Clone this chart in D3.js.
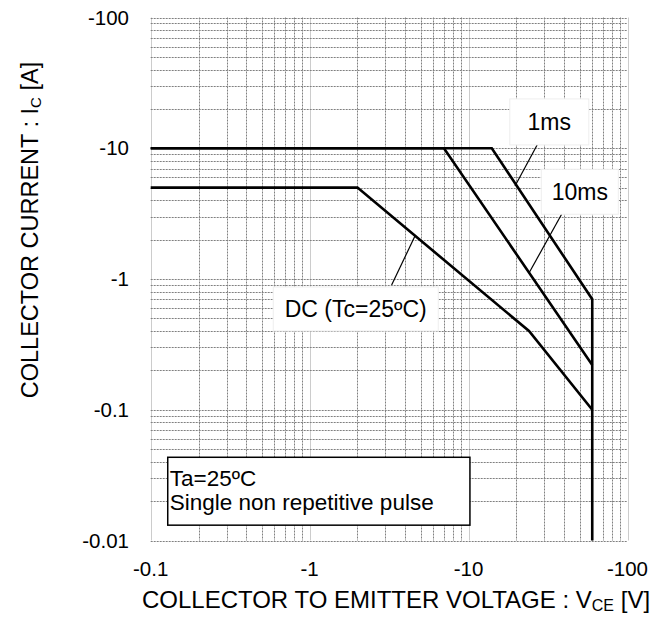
<!DOCTYPE html>
<html lang="en">
<head>
<meta charset="UTF-8">
<title>Safe Operating Area</title>
<script src="https://d3js.org/d3.v7.min.js"></script>
<style>
  body { margin: 0; background: #fff; }
  text { font-family: "Liberation Sans", Arial, sans-serif; fill: #000; }
</style>
</head>
<body>
<div id="chart"></div>
<script>
// tick values (magnitudes) and their labels
const xTicks = [0.1, 1, 10, 100];
const xTickLabels = ["-0.1", "-1", "-10", "-100"];
const yTicks = [0.01, 0.1, 1, 10, 100];
const yTickLabels = ["-0.01", "-0.1", "-1", "-10", "-100"];

// curves, |VCE| in V and |IC| in A
const ms1V = [0.1, 14, 60, 60];
const ms1I = [10, 10, 0.7, 0.01];
const ms10V = [0.1, 7, 60];
const ms10I = [10, 10, 0.22];
const dcV = [0.1, 2, 24, 60];
const dcI = [5, 5, 0.4, 0.1];

const width = 669, height = 618;
const margin = {left: 150.7, right: 41.5, top: 17.5, bottom: 77.5};

const svg = d3.select("#chart").append("svg")
    .attr("width", width).attr("height", height);

const x = d3.scaleLog().domain([0.1, 100]).range([margin.left, width - margin.right]);
const y = d3.scaleLog().domain([0.01, 100]).range([height - margin.bottom, margin.top]);

// grid
const minors = [];
for (let d = 0.1; d < 100; d *= 10) for (let k = 2; k <= 9; k++) minors.push(+(d * k).toPrecision(3));
const yMinors = [];
for (let d = 0.01; d < 100; d *= 10) for (let k = 2; k <= 9; k++) yMinors.push(+(d * k).toPrecision(3));

const grid = svg.append("g");
grid.selectAll(".vx").data(minors).join("line")
    .attr("x1", d => Math.round(x(d)) + 0.5).attr("x2", d => Math.round(x(d)) + 0.5)
    .attr("y1", y(100)).attr("y2", y(0.01))
    .attr("stroke", "#808080").attr("stroke-dasharray", "2,1");
grid.selectAll(".vd").data(xTicks).join("line")
    .attr("x1", d => Math.round(x(d)) + 0.5).attr("x2", d => Math.round(x(d)) + 0.5)
    .attr("y1", y(100)).attr("y2", y(0.01))
    .attr("stroke", "#ccc");
grid.selectAll(".hy").data(yMinors.concat(yTicks)).join("line")
    .attr("x1", x(0.1)).attr("x2", x(100))
    .attr("y1", d => Math.round(y(d)) + 0.5).attr("y2", d => Math.round(y(d)) + 0.5)
    .attr("stroke", "#808080").attr("stroke-dasharray", "2,1");

// tick labels
svg.selectAll(".xl").data(xTicks).join("text")
    .attr("x", d => x(d)).attr("y", 576)
    .attr("text-anchor", "middle").attr("font-size", 20.5)
    .text((d, i) => xTickLabels[i]);
svg.selectAll(".yl").data(yTicks).join("text")
    .attr("x", 129).attr("y", d => y(d) + 7)
    .attr("text-anchor", "end").attr("font-size", 20.5)
    .text((d, i) => yTickLabels[i]);

// curves
const line = d3.line().x(d => x(d[0])).y(d => y(d[1]));
[[ms1V, ms1I], [ms10V, ms10I], [dcV, dcI]].forEach(([vs, is]) => {
  svg.append("path")
      .attr("d", line(vs.map((v, i) => [v, is[i]])))
      .attr("fill", "none").attr("stroke", "#000")
      .attr("stroke-width", 2.6).attr("stroke-linejoin", "miter");
});

// annotations: label centre, leader start and end (in data units)
const notes = [
  {text: "1ms", c: [32.2, 15.9], w: 79, h: 46, from: [27.0, 10.6], to: [19.6, 5.14]},
  {text: "10ms", c: [50.1, 4.65], w: 77, h: 45, from: [38.5, 3.13], to: [24.0, 1.11]},
  {text: "DC (Tc=25ºC)", c: [1.95, 0.59], w: 165, h: 44, from: [3.28, 0.90], to: [4.6, 2.13]}
];
notes.forEach(n => {
  svg.append("line")
      .attr("x1", x(n.from[0])).attr("y1", y(n.from[1]))
      .attr("x2", x(n.to[0])).attr("y2", y(n.to[1]))
      .attr("stroke", "#000").attr("stroke-width", 1.2);
  svg.append("rect")
      .attr("x", x(n.c[0]) - n.w / 2).attr("y", y(n.c[1]) - n.h / 2)
      .attr("width", n.w).attr("height", n.h)
      .attr("fill", "#fff").attr("stroke", "#eee");
  svg.append("text")
      .attr("x", x(n.c[0])).attr("y", y(n.c[1]) + 8)
      .attr("text-anchor", "middle").attr("font-size", 23)
      .text(n.text);
});

// condition box
const boxV = [0.128, 10.2], boxI = [0.0433, 0.0131];
svg.append("rect")
    .attr("x", x(boxV[0])).attr("y", y(boxI[0]))
    .attr("width", x(boxV[1]) - x(boxV[0])).attr("height", y(boxI[1]) - y(boxI[0]))
    .attr("fill", "#fff").attr("stroke", "#000").attr("stroke-width", 1.5);
svg.append("text").attr("x", x(boxV[0]) + 2).attr("y", y(boxI[0]) + 29)
    .attr("font-size", 22.5).text("Ta=25ºC");
svg.append("text").attr("x", x(boxV[0]) + 2).attr("y", y(boxI[0]) + 53)
    .attr("font-size", 22.5).text("Single non repetitive pulse");

// axis titles
const xt = svg.append("text").attr("x", 396).attr("y", 608)
    .attr("text-anchor", "middle").attr("font-size", 24);
xt.append("tspan").text("COLLECTOR TO EMITTER VOLTAGE : V");
xt.append("tspan").attr("font-size", 16).attr("dy", 3).text("CE");
xt.append("tspan").attr("dy", -3).text(" [V]");

const yt = svg.append("text").attr("transform", "translate(38,230) rotate(-90)")
    .attr("text-anchor", "middle").attr("font-size", 23.5);
yt.append("tspan").text("COLLECTOR CURRENT : I");
yt.append("tspan").attr("font-size", 15).attr("dy", 3).text("C");
yt.append("tspan").attr("dy", -3).text(" [A]");
</script>
</body>
</html>
